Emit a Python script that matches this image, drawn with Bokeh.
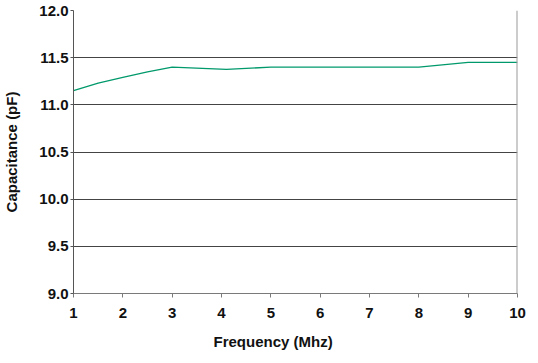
from bokeh.plotting import figure
from bokeh.models import Range1d, FixedTicker, NumeralTickFormatter, Span, Title
from bokeh.embed import file_html
from bokeh.resources import INLINE

# Data
frequency = [1, 1.5, 2, 2.5, 3, 4.1, 5, 6, 7, 8, 9, 10]
capacitance = [11.15, 11.23, 11.29, 11.35, 11.40, 11.375, 11.40, 11.40, 11.40, 11.40, 11.45, 11.45]
x_ticks = [1, 2, 3, 4, 5, 6, 7, 8, 9, 10]
y_ticks = [9.0, 9.5, 10.0, 10.5, 11.0, 11.5, 12.0]
x_label = "Frequency (Mhz)"
y_label = "Capacitance (pF)"

FONT = "Liberation Sans"

p = figure(width=538, height=363, output_backend="svg", toolbar_location=None,
           x_range=Range1d(1, 10), y_range=Range1d(9, 12),
           min_border_left=73, min_border_right=21, min_border_top=10, min_border_bottom=70)
p.outline_line_color = None
p.background_fill_color = "white"
p.border_fill_color = "white"

p.line(frequency, capacitance, line_color="#00996b", line_width=1.3)

# axes
p.xaxis.ticker = FixedTicker(ticks=x_ticks)
p.yaxis.ticker = FixedTicker(ticks=y_ticks)
p.yaxis.formatter = NumeralTickFormatter(format="0.0")
for ax in (p.xaxis[0], p.yaxis[0]):
    ax.major_label_text_font = FONT
    ax.major_label_text_font_style = "bold"
    ax.major_label_text_font_size = "15px"
    ax.major_label_text_color = "#111111"
    ax.minor_tick_line_color = None
    ax.major_tick_in = 0
p.xaxis.axis_line_color = "#7a7a7a"
p.xaxis.major_tick_line_color = "#7a7a7a"
p.xaxis.major_tick_out = 4
p.xaxis.major_label_standoff = 10
p.yaxis.axis_line_color = "#555555"
p.yaxis.major_tick_line_color = "#555555"
p.yaxis.major_tick_out = 3
p.yaxis.major_label_standoff = 2

p.yaxis.axis_label = y_label
p.yaxis.axis_label_standoff = 16
p.yaxis.axis_label_text_font = FONT
p.yaxis.axis_label_text_font_style = "bold"
p.yaxis.axis_label_text_font_size = "15px"
p.yaxis.axis_label_text_color = "#111111"

p.xgrid.grid_line_color = None
p.ygrid.grid_line_color = "#444444"
p.ygrid.grid_line_width = 1

p.add_layout(Span(location=10, dimension="height", line_color="#9a9a9a", line_width=2))

# x axis title, left-aligned with an offset to sit where the reference puts it
p.add_layout(Title(text=x_label, align="left", offset=140, standoff=20,
                   text_font=FONT, text_font_style="bold", text_font_size="15px",
                   text_color="#111111"), "below")

open("out.html", "w").write(file_html(p, INLINE))
